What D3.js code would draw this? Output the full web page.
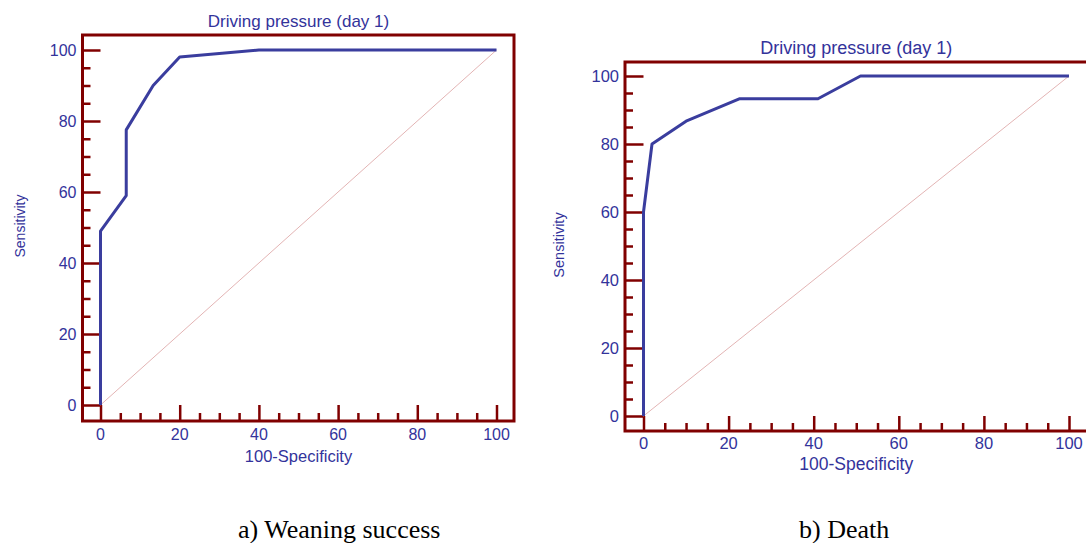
<!DOCTYPE html>
<html>
<head>
<meta charset="utf-8">
<script src="https://cdn.jsdelivr.net/npm/d3@7"></script>
<style>
  body { margin: 0; background: #fff; }
  svg { display: block; }
  .lbl { font-family: "Liberation Sans", Arial, sans-serif; fill: #33339b; }
  .cap { font-family: "Liberation Serif", "Times New Roman", serif; fill: #000; }
</style>
</head>
<body>
<div id="chart"></div>
<script>
// ROC points (100-Specificity, Sensitivity)
var fprWeaning = [0, 0, 6.5, 6.5, 13.3, 20, 40, 100];
var tprWeaning = [0, 49, 59, 77.5, 90, 98, 100, 100];
var fprDeath = [0, 0, 2, 10, 22.5, 41, 51, 100];
var tprDeath = [0, 60, 80, 86.7, 93.3, 93.3, 100, 100];

var majorTicks = [0, 20, 40, 60, 80, 100];
var minorTicks = d3.range(0, 101, 5);

var chartTitle = "Driving pressure (day 1)";
var xTitle = "100-Specificity";
var yTitle = "Sensitivity";
var captions = ["a) Weaning success", "b) Death"];

var frameColor = "#800000";
var lineColor = "#3a3d9e";

var svg = d3.select("#chart")
    .append("svg")
    .attr("width", 1086)
    .attr("height", 543);

function zip(xs, ys) {
    return xs.map(function(d, i) { return {x: d, y: ys[i]}; });
}

// box = frame and plot ranges in pixels
function drawRoc(svg, box, data) {
    var g = svg.append("g");

    var x = d3.scaleLinear().domain([0, 100]).range([box.x0, box.x100]);
    var y = d3.scaleLinear().domain([0, 100]).range([box.y0, box.y100]);

    var majLenY = box.x0 - box.left;
    var majLenX = box.bottom - box.y0;

    // y ticks, inward from frame
    var yAx = g.append("g")
        .attr("transform", "translate(" + box.left + ",0)")
        .call(d3.axisRight(y).tickValues(minorTicks).tickSize(8).tickFormat(""));
    yAx.select(".domain").remove();
    yAx.selectAll(".tick line")
        .attr("stroke", frameColor)
        .attr("stroke-width", 2.5)
        .attr("x2", function(d) { return d % 20 == 0 ? majLenY : 8; });

    // x ticks, inward from frame
    var xAx = g.append("g")
        .attr("transform", "translate(0," + box.bottom + ")")
        .call(d3.axisTop(x).tickValues(minorTicks).tickSize(8).tickFormat(""));
    xAx.select(".domain").remove();
    xAx.selectAll(".tick line")
        .attr("stroke", frameColor)
        .attr("stroke-width", 2.5)
        .attr("y2", function(d) { return d % 20 == 0 ? -majLenX : -8; });

    // tick labels
    g.selectAll(".ylab")
        .data(majorTicks)
        .enter().append("text")
        .attr("class", "lbl")
        .attr("x", box.left - 6)
        .attr("y", function(d) { return y(d); })
        .attr("dy", "0.35em")
        .attr("text-anchor", "end")
        .style("font-size", box.fs + "px")
        .text(function(d) { return d; });

    g.selectAll(".xlab")
        .data(majorTicks)
        .enter().append("text")
        .attr("class", "lbl")
        .attr("x", function(d) { return x(d); })
        .attr("y", box.xLabY)
        .attr("text-anchor", "middle")
        .style("font-size", box.fs + "px")
        .text(function(d) { return d; });

    // frame
    g.append("rect")
        .attr("x", box.left)
        .attr("y", box.top)
        .attr("width", box.right - box.left)
        .attr("height", box.bottom - box.top)
        .attr("fill", "none")
        .attr("stroke", frameColor)
        .attr("stroke-width", 3);

    // reference diagonal
    g.append("line")
        .attr("x1", x(0)).attr("y1", y(0))
        .attr("x2", x(100)).attr("y2", y(100))
        .attr("stroke", "#e3b4b4")
        .attr("stroke-width", 1);

    // ROC curve
    g.append("path")
        .datum(data)
        .attr("fill", "none")
        .attr("stroke", lineColor)
        .attr("stroke-width", 3)
        .attr("stroke-linejoin", "round")
        .attr("d", d3.line()
            .x(function(d) { return x(d.x); })
            .y(function(d) { return y(d.y); }));

    // titles
    var cx = (box.x0 + box.x100) / 2;
    g.append("text")
        .attr("class", "lbl")
        .attr("x", cx)
        .attr("y", box.titleY)
        .attr("text-anchor", "middle")
        .style("font-size", box.tfs + "px")
        .text(chartTitle);

    g.append("text")
        .attr("class", "lbl")
        .attr("x", cx)
        .attr("y", box.xTitleY)
        .attr("text-anchor", "middle")
        .style("font-size", box.xfs + "px")
        .text(xTitle);

    g.append("text")
        .attr("class", "lbl")
        .attr("transform", "translate(" + box.yTitleX + "," + box.yTitleC + ") rotate(-90)")
        .attr("text-anchor", "middle")
        .style("font-size", box.yfs + "px")
        .text(yTitle);

    g.append("text")
        .attr("class", "cap")
        .attr("x", box.capX)
        .attr("y", 538)
        .style("font-size", "26px")
        .text(box.caption);
}

drawRoc(svg, {
    left: 82.5, right: 514, top: 35, bottom: 421,
    x0: 100.5, x100: 496.5, y0: 405, y100: 50,
    fs: 16, tfs: 17, xfs: 16.5, yfs: 14,
    xLabY: 440, titleY: 26.5, xTitleY: 462,
    yTitleX: 25, yTitleC: 226,
    capX: 238, caption: captions[0]
}, zip(fprWeaning, tprWeaning));

drawRoc(svg, {
    left: 625, right: 1089, top: 62, bottom: 431,
    x0: 643.5, x100: 1069, y0: 416, y100: 76,
    fs: 16.5, tfs: 18, xfs: 17.5, yfs: 14.5,
    xLabY: 449, titleY: 53.5, xTitleY: 470,
    yTitleX: 564, yTitleC: 245,
    capX: 799, caption: captions[1]
}, zip(fprDeath, tprDeath));
</script>
</body>
</html>
